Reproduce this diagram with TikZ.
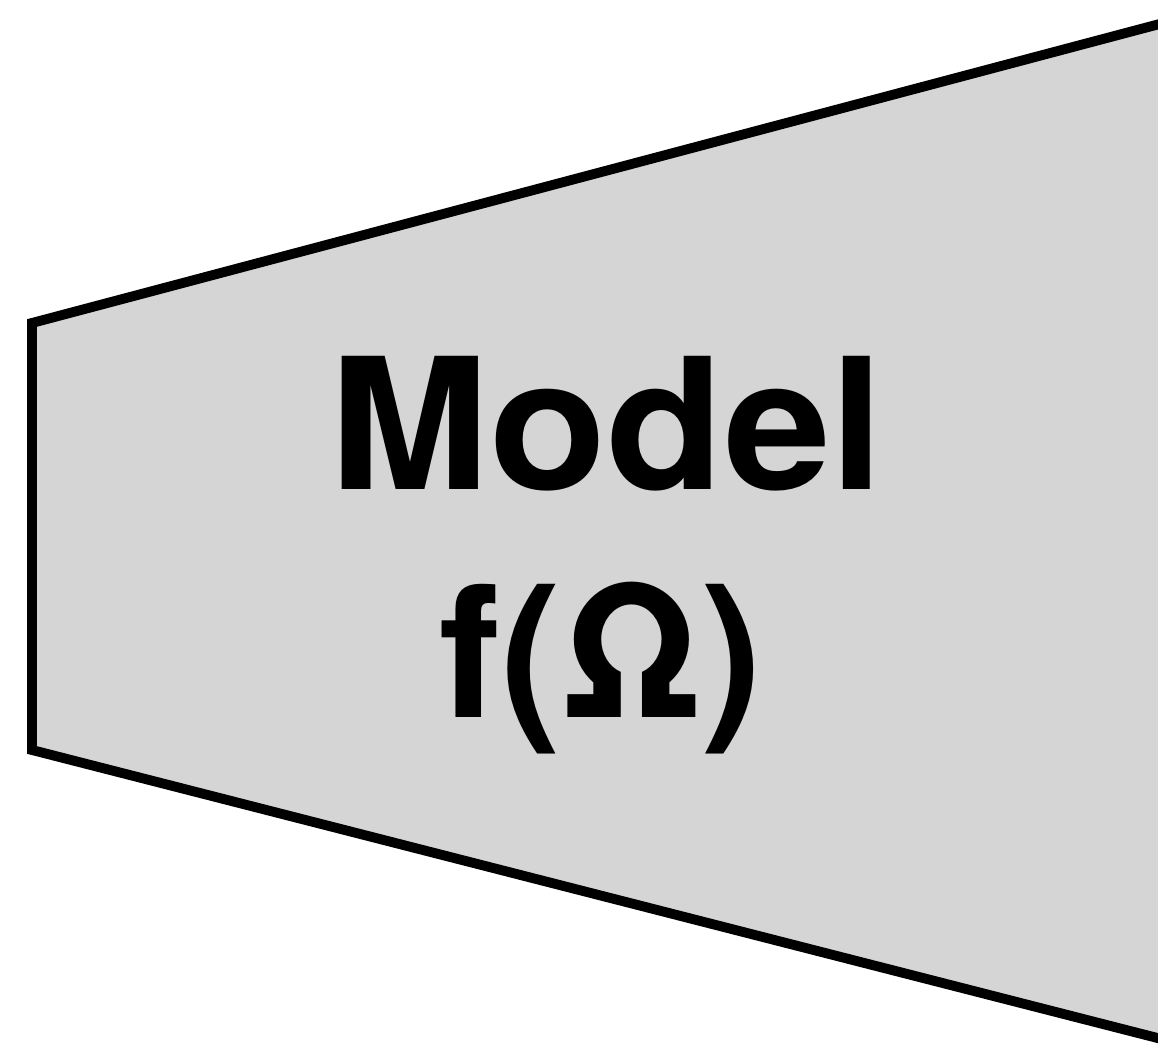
\documentclass[tikz,border=0pt]{standalone}
\usepackage{fontspec}
\setmainfont{TeX Gyre Heros}

\begin{document}
\begin{tikzpicture}[
    every node/.style={align=center},
    label/.style={font=\bfseries\fontsize{52}{62}\selectfont, anchor=base, inner sep=0pt},
    block/.style={draw=black, fill=gray!33, line width=2.8pt, line join=miter}
]

% Frame
\useasboundingbox (0,0) rectangle (11.58,-10.49);
\clip (0,0) rectangle (11.58,-10.49);

% Block
\coordinate (tl) at (0.32,-3.23);
\coordinate (bl) at (0.32,-7.50);
\coordinate (tr) at (12.2,-0.08);
\coordinate (br) at (12.2,-10.54);
\draw[block] (tr) -- (tl) -- (bl) -- (br) -- cycle;

% Nodes
\node[label, xscale=1.05, transform shape] (v0) at (6.07,-4.90) {Model};
\node[label] (v1) at (6.01,-7.17) {f(Ω)};

\end{tikzpicture}
\end{document}
